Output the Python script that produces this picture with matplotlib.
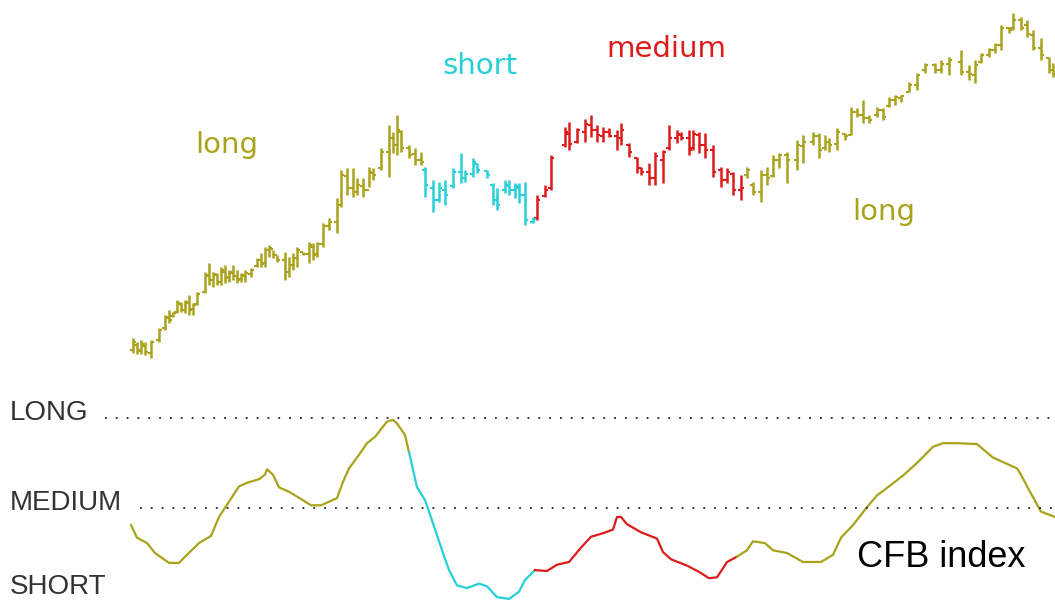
import numpy as np
import matplotlib
matplotlib.use("Agg")
import matplotlib.pyplot as plt

# colours of the three regimes
OLIVE = "#a9a31c"
CYAN = "#26d0d8"
RED = "#de1a1a"
regime_colors = [OLIVE, CYAN, RED, OLIVE]

# price bars (day number, high, low, open, close)
day = [0, 2, 4, 6, 9, 13, 16, 18, 20, 22, 24, 26, 28, 30, 32, 36, 38, 40, 42, 44,
       46, 48, 50, 52, 54, 56, 59, 62, 64, 66, 68, 70, 72, 76, 78, 80, 82, 85, 88, 90,
       92, 95, 98, 102, 104, 107, 110, 112, 115, 118, 120, 124, 128, 130, 132, 134, 138, 141, 144,
       146, 150, 153, 156, 160, 164, 166, 170, 172, 177, 180, 182, 186, 188, 191, 193, 196, 200,
       202, 206, 209, 216, 218, 222, 226, 229, 232, 235, 238, 242, 244, 248, 252, 254, 258, 261,
       265, 268, 272, 274, 278, 280, 283, 286, 290, 294, 297, 300, 304,
       307, 310, 314, 317, 320, 323, 327, 332, 335, 340, 343, 346, 348, 352, 356, 359, 362, 365,
       368, 372, 375, 378, 381, 384, 388, 392, 396, 401, 404, 408, 414, 418, 421, 424, 428, 431,
       434, 438, 440, 444, 447, 450, 454, 458, 460]
high = [62, 58, 60, 58, 60, 72, 85, 90, 88, 100, 98, 100, 105, 97, 108, 128, 137, 128, 127, 133,
        135, 130, 135, 130, 127, 130, 132, 142, 147, 153, 155, 150, 145, 148, 143, 147, 153, 148, 158, 157,
        158, 177, 182, 202, 230, 232, 232, 222, 222, 233, 232, 252, 275, 268, 285, 270, 255, 252, 248,
        233, 220, 218, 220, 232, 247, 230, 242, 237, 230, 217, 212, 220, 220, 217, 217, 218, 183,
        205, 215, 245, 273, 278, 272, 281, 285, 275, 273, 272, 270, 277, 257, 243, 233, 237, 248,
        250, 275, 270, 268, 270, 270, 268, 267, 255, 233, 232, 228, 225,
        233, 218, 230, 233, 245, 247, 248, 260, 265, 268, 267, 265, 262, 272, 267, 293, 292, 300,
        285, 293, 292, 303, 305, 305, 318, 327, 337, 337, 340, 343, 350, 335, 340, 347, 352, 357,
        375, 373, 387, 383, 380, 370, 362, 343, 337]
low = [47, 46, 46, 45, 42, 58, 70, 77, 83, 87, 88, 87, 85, 85, 95, 107, 115, 113, 115, 115,
       117, 118, 120, 117, 118, 118, 123, 133, 133, 133, 143, 142, 138, 120, 123, 130, 133, 145, 137, 140,
       143, 153, 170, 167, 193, 205, 203, 205, 203, 213, 220, 230, 223, 247, 245, 248, 242, 235, 235,
       203, 188, 198, 195, 212, 217, 218, 223, 227, 222, 195, 190, 207, 205, 202, 197, 175, 177,
       180, 203, 210, 253, 250, 257, 258, 263, 258, 258, 263, 250, 255, 243, 227, 225, 215, 215,
       217, 250, 257, 260, 245, 250, 247, 242, 223, 213, 217, 205, 200,
       222, 205, 198, 215, 223, 232, 217, 230, 237, 255, 242, 250, 248, 250, 260, 265, 283, 277,
       277, 283, 280, 293, 295, 298, 308, 310, 327, 327, 327, 325, 325, 320, 317, 337, 343, 347,
       350, 367, 370, 370, 363, 350, 340, 327, 323]
open_ = [50, 55, 49, 54, 47, 60, 72, 82, 84, 88, 96, 90, 97, 91, 96, 108, 124, 120, 125, 118,
         128, 123, 127, 124, 121, 124, 126, 134, 140, 137, 150, 151, 145, 140, 128, 135, 142, 148, 146, 153,
         146, 156, 174, 178, 195, 224, 212, 208, 214, 210, 227, 232, 248, 262, 255, 268, 252, 246, 240,
         230, 212, 200, 210, 214, 228, 222, 226, 236, 229, 215, 200, 210, 214, 210, 212, 205, 178,
         182, 204, 212, 255, 266, 258, 268, 275, 270, 264, 268, 264, 262, 255, 242, 232, 228, 222,
         240, 252, 262, 265, 262, 252, 265, 255, 250, 230, 220, 226, 210,
         225, 215, 208, 225, 224, 240, 245, 240, 254, 258, 264, 252, 258, 256, 266, 265, 288, 285,
         282, 285, 290, 294, 300, 302, 308, 315, 330, 335, 330, 336, 338, 328, 325, 338, 345, 350,
         355, 372, 372, 380, 375, 365, 352, 342, 330]
close = [58, 50, 56, 48, 58, 70, 83, 80, 87, 97, 90, 98, 90, 95, 106, 125, 120, 126, 118, 130,
         122, 128, 124, 120, 125, 127, 130, 140, 136, 150, 152, 145, 140, 128, 135, 142, 150, 146, 155, 145,
         156, 174, 178, 195, 225, 212, 208, 215, 210, 228, 225, 248, 262, 255, 270, 252, 245, 240, 238,
         215, 200, 212, 205, 228, 222, 226, 238, 230, 225, 200, 195, 215, 210, 214, 205, 180, 181,
         200, 210, 242, 268, 256, 270, 276, 270, 265, 268, 264, 262, 270, 248, 232, 228, 222, 244,
         248, 262, 266, 262, 250, 266, 255, 250, 228, 220, 228, 210, 212,
         230, 208, 225, 222, 240, 245, 240, 255, 258, 264, 250, 258, 255, 268, 264, 288, 285, 282,
         280, 290, 283, 300, 303, 304, 315, 325, 335, 330, 336, 340, 328, 326, 335, 345, 350, 355,
         372, 370, 380, 372, 366, 352, 345, 330, 326]
bar_regime_start = [0, 145, 201, 306]

# CFB index (0 = SHORT, 1 = MEDIUM, 2 = LONG)
cfb_day = [-1, 2, 7, 11, 18, 23, 27, 33, 39, 43, 48, 53, 57, 63, 66, 67, 70, 73, 78, 84,
           89, 94, 102, 105, 108, 113, 117, 121, 127, 130, 132, 136, 138, 142, 146, 150, 155, 158,
           162, 167, 173, 177, 182, 188, 193, 196, 201, 207, 212, 218, 224, 229, 235, 240, 242,
           244, 247, 254, 262, 265, 269, 277, 283, 288, 292, 295, 297, 302, 307, 310, 316, 320,
           327, 335, 344, 350, 354, 360, 367, 372, 378, 385, 392, 400, 405, 412, 422, 430, 442,
           444, 448, 454, 461]
cfb_value = [0.81, 0.67, 0.61, 0.50, 0.39, 0.39, 0.48, 0.61, 0.69, 0.90, 1.07, 1.24, 1.28, 1.32,
             1.37, 1.43, 1.37, 1.23, 1.18, 1.10, 1.03, 1.03, 1.11, 1.29, 1.44, 1.59, 1.72, 1.79,
             1.96, 1.98, 1.94, 1.81, 1.62, 1.23, 1.09, 0.83, 0.50, 0.31, 0.14, 0.11, 0.16, 0.13,
             0.01, -0.01, 0.07, 0.20, 0.31, 0.30, 0.37, 0.40, 0.56, 0.68, 0.72, 0.76, 0.90, 0.90,
             0.82, 0.73, 0.66, 0.51, 0.43, 0.36, 0.29, 0.22, 0.23, 0.33, 0.40, 0.46, 0.53, 0.63,
             0.61, 0.53, 0.50, 0.40, 0.40, 0.48, 0.67, 0.81, 1.01, 1.14, 1.24, 1.36, 1.50, 1.68,
             1.72, 1.72, 1.71, 1.56, 1.44, 1.37, 1.20, 0.96, 0.90]
cfb_regime_start = [-1, 138, 201, 302]
levels = {"LONG": 2, "MEDIUM": 1, "SHORT": 0}

W, H = 1055, 602
fig = plt.figure(figsize=(W / 100, H / 100), dpi=100)
fig.patch.set_facecolor("white")

# upper panel: bar chart
ax = fig.add_axes([0, 222 / H, 1, 380 / H])
ax.set_xlim(-66.5, 461)
ax.set_ylim(20, 400)
ax.axis("off")

day = np.array(day)
reg = np.searchsorted(bar_regime_start, day, side="right") - 1
cols = [regime_colors[r] for r in reg]
ax.vlines(day, low, high, colors=cols, lw=1.8)
ax.hlines(open_, day - 1.4, day, colors=cols, lw=1.5)
ax.hlines(close, day, day + 1.4, colors=cols, lw=1.5)

# lower panel: CFB index
ax2 = fig.add_axes([0, 0, 1, 222 / H])
ax2.set_xlim(-66.5, 461)
ax2.set_ylim(-0.0444, 2.422)
ax2.axis("off")

cfb_day = np.array(cfb_day)
cfb_value = np.array(cfb_value)
bounds = cfb_regime_start + [1e9]
for i in range(4):
    m = (cfb_day >= bounds[i]) & (cfb_day <= bounds[i + 1])
    ax2.plot(cfb_day[m], cfb_value[m], color=regime_colors[i], lw=1.6,
             solid_joinstyle="round")

ax2.axhline(levels["LONG"], xmin=105 / W, xmax=1, color="#222222", lw=1.3,
            linestyle=(0, (1, 5)))
ax2.axhline(levels["MEDIUM"], xmin=140 / W, xmax=1, color="#222222", lw=1.3,
            linestyle=(0, (1, 5)))

# texts
def ftext(x, y, s, **kw):
    fig.text(x / W, 1 - y / H, s, va="baseline", ha="left", **kw)

ftext(195, 153, "long", color=OLIVE, fontsize=21, family="DejaVu Sans")
ftext(442, 74, "short", color=CYAN, fontsize=21, family="DejaVu Sans")
ftext(606, 57, "medium", color=RED, fontsize=21, family="DejaVu Sans")
ftext(852, 220, "long", color=OLIVE, fontsize=21, family="DejaVu Sans")

ftext(10, 420, "LONG", color="#333333", fontsize=20, family="Liberation Sans")
ftext(10, 510, "MEDIUM", color="#333333", fontsize=20, family="Liberation Sans")
ftext(10, 594, "SHORT", color="#333333", fontsize=20, family="Liberation Sans")
ftext(857, 567, "CFB index", color="black", fontsize=26, family="Liberation Sans")

fig.savefig("out.png", dpi=100, facecolor="white")
